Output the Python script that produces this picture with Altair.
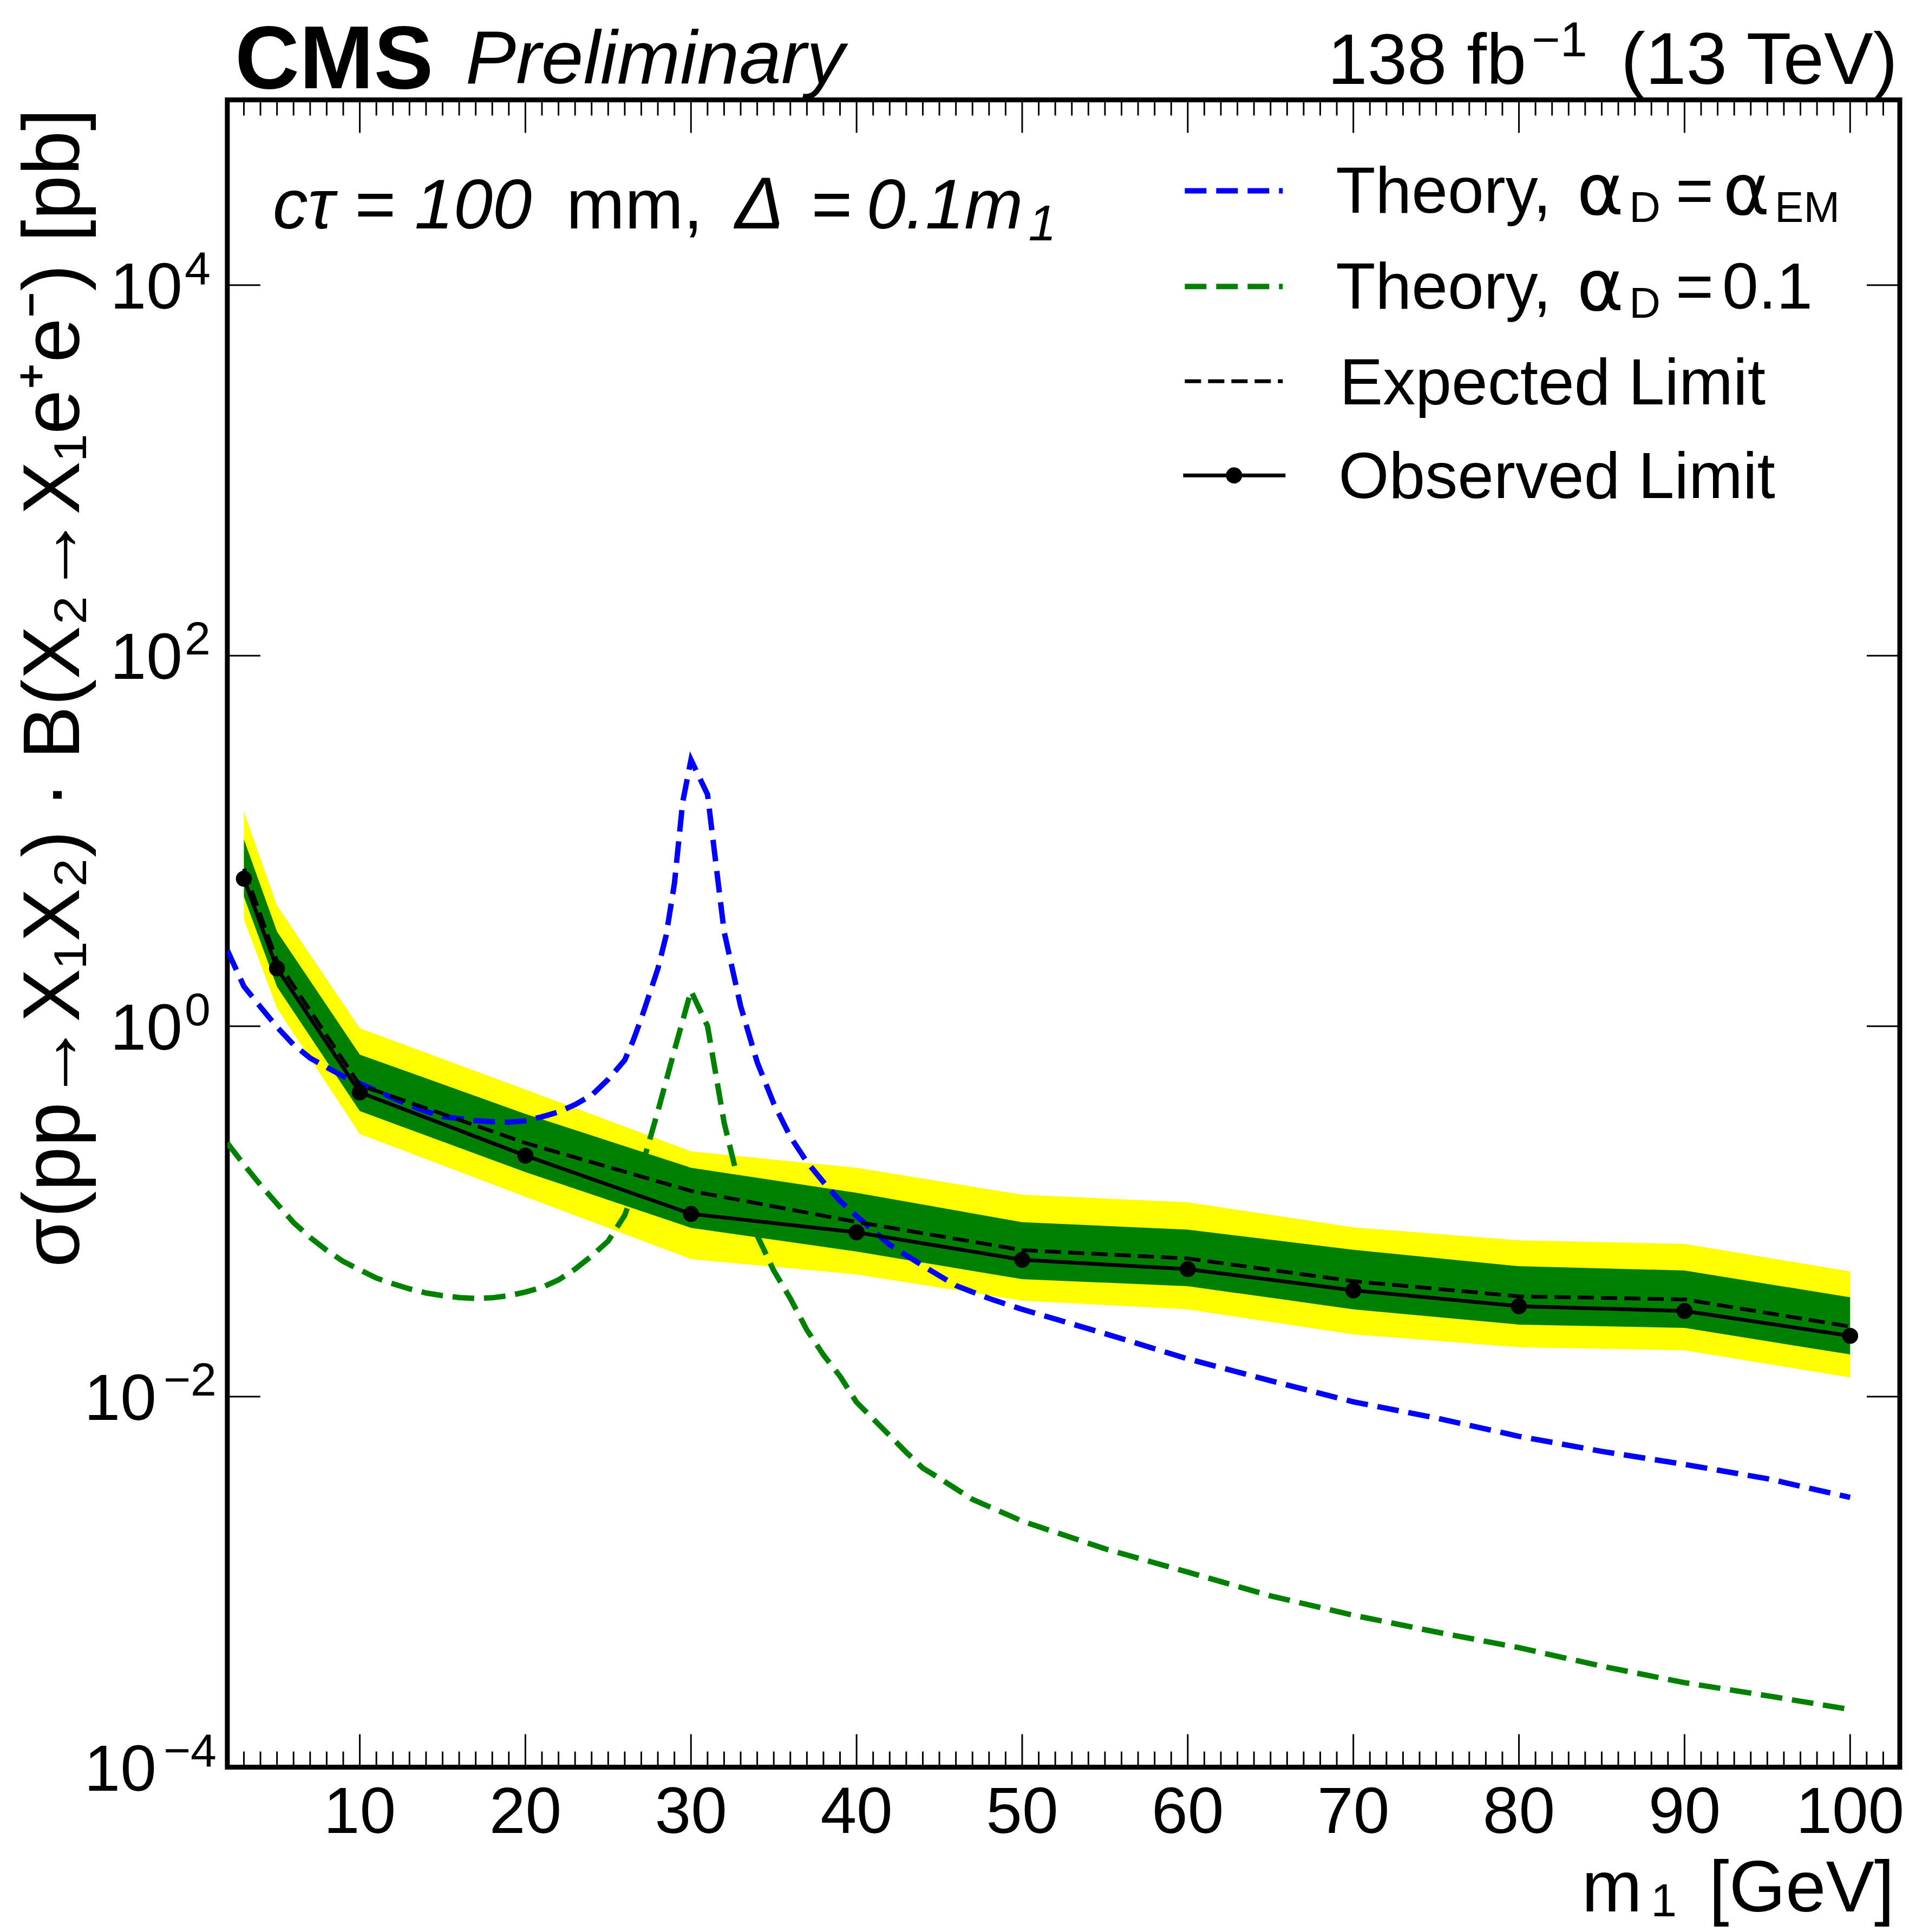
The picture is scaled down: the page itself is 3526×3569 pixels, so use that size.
import altair as alt
import pandas as pd

FONT = "Liberation Sans"
GREEK = "DejaVu Sans"
W, H = 3090, 3081

# ---------------- data ----------------
mass = [3, 5, 10, 20, 30, 40, 50, 60, 70, 80, 90, 100]
observed = [6.25, 2.05, 0.439, 0.200, 0.0970, 0.0771, 0.0548, 0.0488, 0.0375, 0.0308, 0.0290, 0.0213]
expected = [7.08, 2.25, 0.481, 0.234, 0.129, 0.0877, 0.0618, 0.0557, 0.0420, 0.0348, 0.0335, 0.0239]
one_sig_hi = [10.2, 3.24, 0.702, 0.336, 0.172, 0.126, 0.0875, 0.0798, 0.0621, 0.0506, 0.0480, 0.0344]
one_sig_lo = [5.01, 1.63, 0.348, 0.163, 0.0815, 0.0607, 0.0431, 0.0395, 0.0296, 0.0245, 0.0235, 0.0169]
two_sig_hi = [14.4, 4.48, 0.975, 0.455, 0.211, 0.172, 0.123, 0.112, 0.0820, 0.0698, 0.0668, 0.0474]
two_sig_lo = [3.78, 1.25, 0.262, 0.120, 0.0553, 0.0457, 0.0330, 0.0296, 0.0217, 0.0185, 0.0178, 0.0127]

theory_em_mass = [2, 3, 4, 5, 6, 7, 8, 9, 10, 11, 12, 13, 14, 15, 16, 17, 18, 19, 20, 21, 22, 23, 24,
                  25, 26, 26.5, 27, 28, 28.5, 29, 29.5, 30, 31, 32, 33, 34, 35, 36, 37, 38, 39, 40,
                  42, 44, 46, 48, 50, 55, 60, 65, 70, 75, 80, 85, 90, 95, 100]
theory_em = [2.57, 1.64, 1.27, 0.989, 0.794, 0.673, 0.600, 0.536, 0.490, 0.448, 0.409, 0.375, 0.347,
             0.325, 0.317, 0.309, 0.305, 0.303, 0.308, 0.324, 0.344, 0.377, 0.424, 0.516, 0.656, 0.832,
             1.10, 2.04, 3.09, 5.89, 16.2, 27.4, 17.8, 3.24, 1.28, 0.638, 0.382, 0.253, 0.185, 0.144,
             0.114, 0.0944, 0.0661, 0.0509, 0.0398, 0.0339, 0.0296, 0.0219, 0.0160, 0.0122, 0.00938,
             0.00767, 0.00611, 0.00507, 0.00431, 0.00361, 0.00286]

theory_01_mass = [2, 3, 4, 5, 6, 7, 8, 9, 10, 11, 12, 13, 14, 15, 16, 17, 18, 19, 20, 21, 22, 23, 24,
                  25, 26, 27, 28, 29, 30, 31, 32, 33, 34, 35, 36, 37, 38, 39, 40, 41, 42, 43, 44, 45,
                  47, 50, 55, 60, 65, 70, 75, 80, 85, 90, 95, 100]
theory_01 = [0.234, 0.179, 0.139, 0.110, 0.0871, 0.0724, 0.0617, 0.0537, 0.0484, 0.0437, 0.0407,
             0.0382, 0.0363, 0.0351, 0.0343, 0.0339, 0.0342, 0.0351, 0.0367, 0.0389, 0.0427, 0.0488,
             0.0575, 0.0692, 0.0955, 0.170, 0.347, 0.741, 1.55, 1.00, 0.302, 0.129, 0.0741, 0.0479,
             0.0339, 0.0229, 0.0168, 0.0129, 0.00933, 0.00759, 0.00617, 0.00501, 0.00412, 0.00363,
             0.00279, 0.00213, 0.00151, 0.00113, 0.000841, 0.000661, 0.000537, 0.000442, 0.000351,
             0.000286, 0.000243, 0.000205]

x_major = [10, 20, 30, 40, 50, 60, 70, 80, 90, 100]
x_minor = [m for m in range(3, 103) if m % 10 != 0]
y_major = [1e-2, 1.0, 1e2, 1e4]
y_label_exp = [-4, -2, 0, 2, 4]

# ---------------- scales ----------------
xs = alt.Scale(domain=[2, 103], nice=False, zero=False)
ys = alt.Scale(type="log", domain=[1e-4, 1e5], nice=False)

lim = pd.DataFrame({"m": mass, "obs": observed, "exp": expected,
                    "g_lo": one_sig_lo, "g_hi": one_sig_hi,
                    "y_lo": two_sig_lo, "y_hi": two_sig_hi})
th_em = pd.DataFrame({"m": theory_em_mass, "v": theory_em})
th_01 = pd.DataFrame({"m": theory_01_mass, "v": theory_01})

X = alt.X("m:Q", scale=xs, axis=None)

yellow = alt.Chart(lim).mark_area(color="#ffff00", opacity=1).encode(
    x=X, y=alt.Y("y_lo:Q", scale=ys, axis=None), y2="y_hi:Q")
green = alt.Chart(lim).mark_area(color="#008000", opacity=1).encode(
    x=X, y=alt.Y("g_lo:Q", scale=ys, axis=None), y2="g_hi:Q")

TH_W, TH_DASH = 10, [40, 18]
EX_W, EX_DASH = 7, [30, 13]

theo_em = alt.Chart(th_em).mark_line(color="#0000ff", strokeWidth=TH_W, strokeDash=TH_DASH, clip=True).encode(
    x=X, y=alt.Y("v:Q", scale=ys, axis=None))
theo_01 = alt.Chart(th_01).mark_line(color="#008000", strokeWidth=TH_W, strokeDash=TH_DASH, clip=True).encode(
    x=X, y=alt.Y("v:Q", scale=ys, axis=None))

exp_line = alt.Chart(lim).mark_line(color="black", strokeWidth=EX_W, strokeDash=EX_DASH).encode(
    x=X, y=alt.Y("exp:Q", scale=ys, axis=None))
obs_line = alt.Chart(lim).mark_line(color="black", strokeWidth=7).encode(
    x=X, y=alt.Y("obs:Q", scale=ys, axis=None))
obs_pts = alt.Chart(lim).mark_point(filled=True, color="black", opacity=1, size=880).encode(
    x=X, y=alt.Y("obs:Q", scale=ys, axis=None))

# ---------------- ticks ----------------
xmaj = pd.DataFrame({"m": x_major})
xmin = pd.DataFrame({"m": x_minor})
ymaj = pd.DataFrame({"v": y_major})
TW = 3


def xticks(df, length):
    b = alt.Chart(df).mark_rule(color="black", strokeWidth=TW).encode(
        x=X, y=alt.value(H), y2=alt.value(H - length))
    t = alt.Chart(df).mark_rule(color="black", strokeWidth=TW).encode(
        x=X, y=alt.value(0), y2=alt.value(length))
    return [b, t]


yt_l = alt.Chart(ymaj).mark_rule(color="black", strokeWidth=TW).encode(
    y=alt.Y("v:Q", scale=ys, axis=None), x=alt.value(0), x2=alt.value(61))
yt_r = alt.Chart(ymaj).mark_rule(color="black", strokeWidth=TW).encode(
    y=alt.Y("v:Q", scale=ys, axis=None), x=alt.value(W), x2=alt.value(W - 61))

# ---------------- tick labels ----------------
xlab = alt.Chart(xmaj).mark_text(font=FONT, fontSize=120, align="center", baseline="alphabetic",
                                 color="black").encode(
    x=X, y=alt.value(H + 121), text=alt.Text("m:Q", format="d"))

ylab_df = pd.DataFrame({"e": y_label_exp,
                        "v": [10.0 ** e for e in y_label_exp],
                        "sup": [str(e).replace("-", "\u2212") for e in y_label_exp]})


def ylabels(neg):
    flt = "datum.e < 0" if neg else "datum.e >= 0"
    base_x = -131 if neg else -83
    sup_x = -118 if neg else -79
    ten = alt.Chart(ylab_df).transform_filter(flt).mark_text(
        font=FONT, fontSize=120, align="right", baseline="alphabetic", dy=43, text="10",
        color="black").encode(y=alt.Y("v:Q", scale=ys, axis=None), x=alt.value(base_x))
    sup = alt.Chart(ylab_df).transform_filter(flt).mark_text(
        font=FONT, fontSize=86, align="left", baseline="alphabetic", dy=-2,
        color="black").encode(y=alt.Y("v:Q", scale=ys, axis=None), x=alt.value(sup_x), text="sup:N")
    return [ten, sup]


# ---------------- free text ----------------
one = alt.Data(values=[{"a": 1}])


def txt(s, x, y, size, style="normal", weight="normal", align="left", angle=None, font=FONT):
    kw = dict(text=s, font=font, fontSize=size, fontStyle=style, fontWeight=weight,
              align=align, baseline="alphabetic", color="black")
    if angle is not None:
        kw["angle"] = angle
    return alt.Chart(one).mark_text(**kw).encode(x=alt.value(x), y=alt.value(y))


def hrule(x1, x2, y, color, width, dash=None):
    kw = dict(color=color, strokeWidth=width)
    if dash:
        kw["strokeDash"] = dash
    return alt.Chart(one).mark_rule(**kw).encode(x=alt.value(x1), x2=alt.value(x2), y=alt.value(y))


texts = [
    # header
    txt("CMS", 14, -21, 165, weight="bold"),
    txt("Preliminary", 440, -30, 140, style="italic"),
    txt("138 fb", 2400, -29, 132, align="right"),
    txt("\u22121", 2410, -80, 90),
    txt("(13 TeV)", 3086, -29, 136, align="right"),
    # annotation
    txt("c\u03c4 = 100", 84, 238, 130, style="italic"),
    txt("mm,", 626, 238, 130),
    txt("\u0394", 938, 238, 136, style="italic"),
    txt("=", 1079, 238, 130),
    txt("0.1m", 1181, 238, 130, style="italic"),
    txt("1", 1480, 260, 92, style="italic"),
    # legend
    txt("Theory,", 2048, 209, 120),
    txt("\u03b1", 2493, 212, 132, font=GREEK),
    txt("D", 2590, 226, 80),
    txt("=", 2676, 209, 120),
    txt("\u03b1", 2763, 212, 132, font=GREEK),
    txt("EM", 2859, 226, 80),
    txt("Theory,", 2048, 386, 120),
    txt("\u03b1", 2493, 389, 132, font=GREEK),
    txt("D", 2590, 403, 80),
    txt("=", 2676, 386, 120),
    txt("0.1", 2762, 386, 120),
    txt("Expected Limit", 2055, 563, 120),
    txt("Observed Limit", 2053, 736, 120),
    # axis titles
    txt("[GeV]", 3080, H + 266, 134, align="right"),
    txt("m", 2614, H + 266, 134, align="right"),
    txt("1", 2630, H + 276, 86),
    txt("\u03c3(pp\u2192X\u2081X\u2082) \u00b7 B(X\u2082\u2192X\u2081e\u207ae\u207b) [pb]",
        -274, 16, 148, align="right", angle=270),
]

legend_syms = [
    hrule(1769, 1950, 168, "#0000ff", TH_W, TH_DASH),
    hrule(1769, 1950, 345, "#008000", TH_W, TH_DASH),
    hrule(1769, 1950, 520, "black", EX_W, EX_DASH),
    hrule(1766, 1955, 694, "black", 7),
    alt.Chart(one).mark_point(filled=True, color="black", opacity=1, size=900).encode(
        x=alt.value(1860), y=alt.value(694)),
]

layers = ([yellow, green, theo_em, theo_01, exp_line, obs_line, obs_pts]
          + xticks(xmaj, 61) + xticks(xmin, 29) + [yt_l, yt_r, xlab]
          + ylabels(True) + ylabels(False) + texts + legend_syms)

chart = alt.layer(*layers).properties(
    width=W, height=H,
    padding={"left": 20, "top": 23, "right": 0, "bottom": 3},
    background="white",
).configure_view(stroke="black", strokeWidth=9)

chart.save("out.html", embed_options={"renderer": "svg", "actions": False})
